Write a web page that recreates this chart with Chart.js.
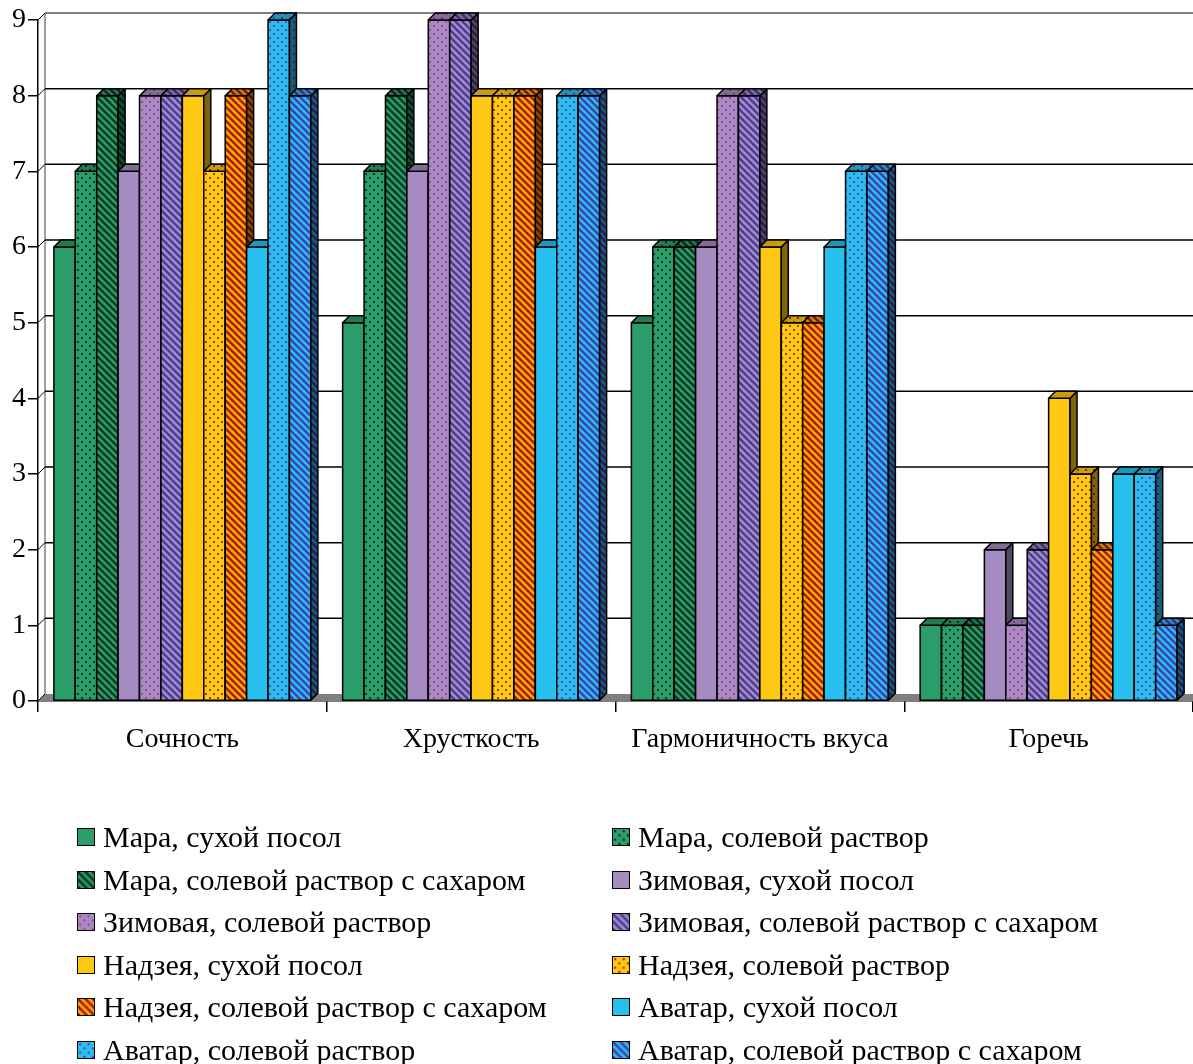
<!DOCTYPE html>
<html>
<head>
<meta charset="utf-8">
<script src="https://cdn.jsdelivr.net/npm/chart.js@4.4.1/dist/chart.umd.min.js"></script>
<style>
  body { margin: 0; background: #fff; }
  #wrap { position: relative; width: 1193px; height: 1064px; }
  #legend {
    position: absolute; left: 77px; top: 816px;
    display: grid; grid-template-columns: 535px 580px; grid-auto-rows: 42.5px;
    font: 30px 'Liberation Serif', 'Times New Roman', serif; color: #000;
  }
  .item { display: flex; align-items: center; white-space: nowrap; }
  .item canvas { width: 18px; height: 18px; margin-right: 8px; box-sizing: border-box; border: 1.5px solid #000; }
</style>
</head>
<body>
<div id="wrap">
  <canvas id="chart" width="1193" height="1064"></canvas>
  <div id="legend"></div>
</div>
<script>
const categories = ['Сочность', 'Хрусткость', 'Гармоничность вкуса', 'Горечь'];
const seriesNames = [
  'Мара, сухой посол', 'Мара, солевой раствор', 'Мара, солевой раствор с сахаром',
  'Зимовая, сухой посол', 'Зимовая, солевой раствор', 'Зимовая, солевой раствор с сахаром',
  'Надзея, сухой посол', 'Надзея, солевой раствор', 'Надзея, солевой раствор с сахаром',
  'Аватар, сухой посол', 'Аватар, солевой раствор', 'Аватар, солевой раствор с сахаром'
];

const maraDry       = [6, 5, 5, 1];
const maraBrine     = [7, 7, 6, 1];
const maraSugar     = [8, 8, 6, 1];
const zimDry        = [7, 7, 6, 2];
const zimBrine      = [8, 9, 8, 1];
const zimSugar      = [8, 9, 8, 2];
const nadDry        = [8, 8, 6, 4];
const nadBrine      = [7, 8, 5, 3];
const nadSugar      = [8, 8, 5, 2];
const avaDry        = [6, 6, 6, 3];
const avaBrine      = [9, 8, 7, 3];
const avaSugar      = [8, 8, 7, 1];
const seriesValues = [maraDry, maraBrine, maraSugar, zimDry, zimBrine, zimSugar,
                      nadDry, nadBrine, nadSugar, avaDry, avaBrine, avaSugar];

// fill style per series: [kind, base colour, ink colour]
const styles = [
  ['solid', '#2a9d68', null],
  ['dots',  '#2a9d68', '#0b3a22'],
  ['hatch', '#2a9d68', '#0b3a22'],
  ['solid', '#a68bc2', null],
  ['dots',  '#a68bc2', '#b0409c'],
  ['hatch', '#a68bc2', '#4a3c9c'],
  ['solid', '#ffc815', null],
  ['dots',  '#ffc815', '#b83a00'],
  ['hatch', '#ffaa00', '#a81c00'],
  ['solid', '#27c0ee', null],
  ['dots',  '#27c0ee', '#6046b8'],
  ['hatch', '#27c0ee', '#4040b0']
];

const DEPTH = 7;

function shade(hex, k) {
  const n = parseInt(hex.slice(1), 16);
  const r = Math.round(((n >> 16) & 255) * k);
  const g = Math.round(((n >> 8) & 255) * k);
  const b = Math.round((n & 255) * k);
  return `rgb(${r},${g},${b})`;
}

function makeFill(ctx, style, k) {
  const [kind, base, ink] = style;
  if (kind === 'solid') return shade(base, k);
  const s = kind === 'hatch' ? 14 : 8;
  const c = document.createElement('canvas');
  c.width = c.height = s;
  const g = c.getContext('2d');
  g.fillStyle = shade(base, k);
  g.fillRect(0, 0, s, s);
  if (kind === 'dots') {
    g.fillStyle = shade(ink, k);
    g.fillRect(1, 1, 2, 2);
    g.fillRect(5, 5, 2, 2);
  } else {
    g.strokeStyle = shade(ink, k);
    g.lineWidth = 2.4;
    for (let o = -s; o <= s; o += 7) {
      g.beginPath();
      g.moveTo(o - 2, -2);
      g.lineTo(o + s + 2, s + 2);
      g.stroke();
    }
  }
  return ctx.createPattern(c, 'repeat');
}

const canvas = document.getElementById('chart');
const ctx = canvas.getContext('2d');
const fronts = styles.map(s => makeFill(ctx, s, 1));
const tops = styles.map(s => makeFill(ctx, s, 0.78));
const sides = styles.map(s => makeFill(ctx, s, 0.5));

// back wall, grid lines and grey floor
const wallPlugin = {
  id: 'wall',
  beforeDatasetsDraw(chart) {
    const { ctx, chartArea: a, scales: { y } } = chart;
    ctx.save();
    ctx.fillStyle = '#808080';
    ctx.beginPath();
    ctx.moveTo(a.left, a.bottom);
    ctx.lineTo(a.left + DEPTH, a.bottom - DEPTH);
    ctx.lineTo(a.right, a.bottom - DEPTH);
    ctx.lineTo(a.right, a.bottom);
    ctx.closePath();
    ctx.fill();
    ctx.strokeStyle = '#808080';
    ctx.lineWidth = 1.5;
    ctx.beginPath();
    ctx.moveTo(a.left + DEPTH, a.top - DEPTH);
    ctx.lineTo(a.left + DEPTH, a.bottom - DEPTH);
    ctx.stroke();
    y.ticks.forEach(t => {
      const py = y.getPixelForValue(t.value);
      ctx.strokeStyle = t.value === y.max ? '#808080' : '#000';
      ctx.lineWidth = t.value === y.max ? 2 : 1.5;
      if (t.value > y.min) {
        ctx.beginPath();
        ctx.moveTo(a.left + DEPTH, py - DEPTH);
        ctx.lineTo(a.right, py - DEPTH);
        ctx.stroke();
      }
      ctx.strokeStyle = '#000';
      ctx.lineWidth = 1;
      ctx.beginPath();
      ctx.moveTo(a.left, py);
      ctx.lineTo(a.left + DEPTH, py - DEPTH);
      ctx.stroke();
    });
    ctx.restore();
  },
  // bars redrawn left to right so each one hides its neighbour's side face
  afterDatasetsDraw(chart) {
    const { ctx } = chart;
    ctx.save();
    ctx.strokeStyle = '#000';
    ctx.lineWidth = 1.5;
    ctx.lineJoin = 'round';
    chart.data.datasets.forEach((ds, di) => {
      chart.getDatasetMeta(di).data.forEach(el => {
        const { x, y, base, width } = el.getProps(['x', 'y', 'base', 'width'], true);
        const x0 = x - width / 2, x1 = x + width / 2;
        ctx.fillStyle = fronts[di];
        ctx.fillRect(x0, y, width, base - y);
        ctx.strokeRect(x0, y, width, base - y);
        ctx.fillStyle = sides[di];
        ctx.beginPath();
        ctx.moveTo(x1, y);
        ctx.lineTo(x1 + DEPTH, y - DEPTH);
        ctx.lineTo(x1 + DEPTH, base - DEPTH);
        ctx.lineTo(x1, base);
        ctx.closePath();
        ctx.fill();
        ctx.stroke();
        ctx.fillStyle = tops[di];
        ctx.beginPath();
        ctx.moveTo(x0, y);
        ctx.lineTo(x0 + DEPTH, y - DEPTH);
        ctx.lineTo(x1 + DEPTH, y - DEPTH);
        ctx.lineTo(x1, y);
        ctx.closePath();
        ctx.fill();
        ctx.stroke();
      });
    });
    ctx.restore();
  }
};

const serif = { family: "'Liberation Serif', 'Times New Roman', serif", size: 28 };

new Chart(ctx, {
  type: 'bar',
  data: {
    labels: categories,
    datasets: seriesNames.map((name, i) => ({
      label: name,
      data: seriesValues[i],
      backgroundColor: fronts[i],
      borderColor: '#000',
      borderWidth: 1.5,
      borderSkipped: false,
      categoryPercentage: 0.89,
      barPercentage: 1.0
    }))
  },
  options: {
    responsive: false,
    animation: false,
    devicePixelRatio: 1,
    layout: { padding: { top: 20, right: 0, left: 0, bottom: 0 } },
    plugins: { legend: { display: false }, tooltip: { enabled: false } },
    scales: {
      x: {
        grid: { drawOnChartArea: false, drawTicks: true, tickLength: 11, color: '#000', lineWidth: 1.5, offset: true },
        border: { display: true, color: '#000', width: 1.5 },
        ticks: { color: '#000', font: serif, padding: 11, maxRotation: 0 },
        afterFit(scale) { scale.height = 363; }
      },
      y: {
        min: 0, max: 9,
        grid: { drawOnChartArea: false, drawTicks: true, tickLength: 10, color: '#000', lineWidth: 1.5 },
        border: { display: true, color: '#000', width: 1.5 },
        ticks: { stepSize: 1, color: '#000', font: serif, padding: 2 },
        afterFit(scale) { scale.width = 38; }
      }
    }
  },
  plugins: [wallPlugin]
});

// two-column legend under the plot
const legend = document.getElementById('legend');
seriesNames.forEach((name, i) => {
  const item = document.createElement('div');
  item.className = 'item';
  const sw = document.createElement('canvas');
  sw.width = sw.height = 15;
  const sctx = sw.getContext('2d');
  sctx.fillStyle = makeFill(sctx, styles[i], 1);
  sctx.fillRect(0, 0, 15, 15);
  item.appendChild(sw);
  const txt = document.createElement('span');
  txt.textContent = name;
  item.appendChild(txt);
  legend.appendChild(item);
});
</script>
</body>
</html>
